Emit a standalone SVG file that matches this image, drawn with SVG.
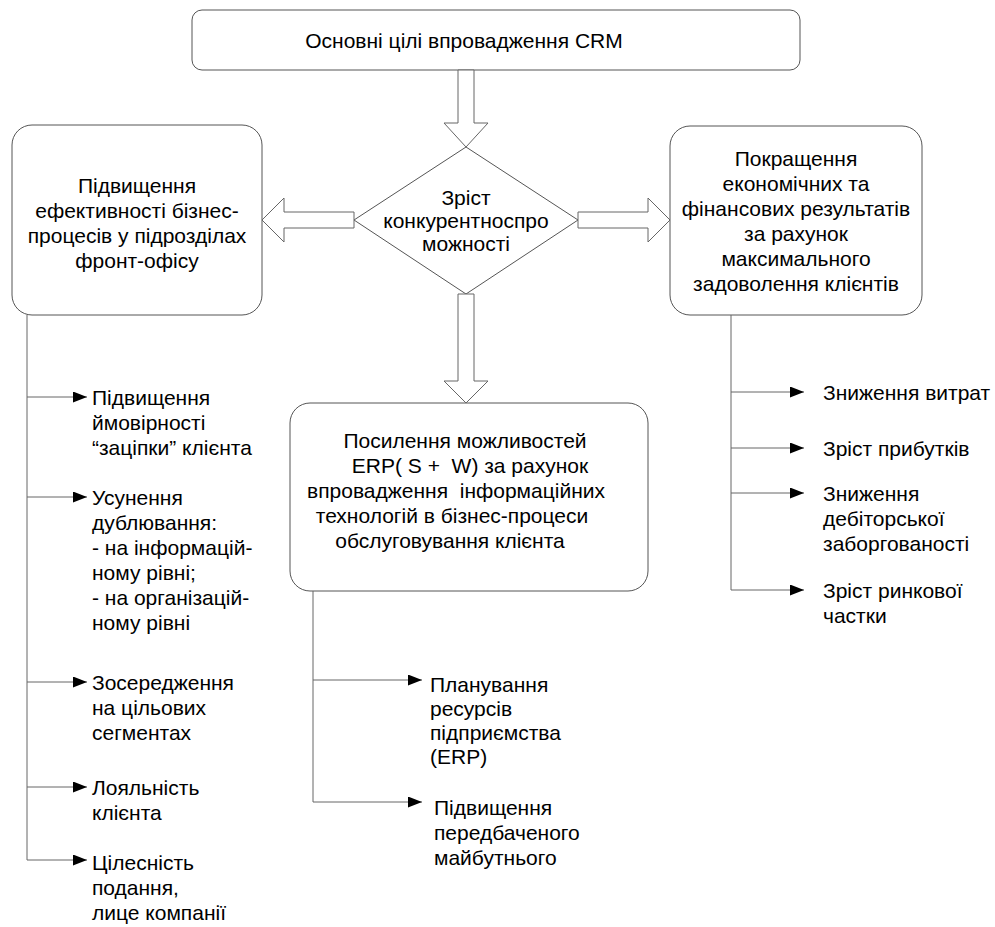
<svg xmlns="http://www.w3.org/2000/svg" width="995" height="927" viewBox="0 0 995 927">
  <defs>
    <marker id="tri" markerWidth="14" markerHeight="11" refX="14" refY="5.5" orient="auto" markerUnits="userSpaceOnUse">
      <path d="M0,0 L14,5.5 L0,11 Z" fill="#000"/>
    </marker>
    <style>
      .box { fill: #fff; stroke: #555; stroke-width: 1; }
      .blk { fill: #fff; stroke: #666; stroke-width: 1; }
      .ln { fill: none; stroke: #666; stroke-width: 1; }
      .br { fill: none; stroke: #666; stroke-width: 1; marker-end: url(#tri); }
      text { font-family: "Liberation Sans", Arial, sans-serif; font-size: 21px; fill: #000; }
      .c { text-anchor: middle; }
      .pre { white-space: pre; }
    </style>
  </defs>
  <rect width="995" height="927" fill="#fff"/>

  <!-- main goal -->
  <g id="goal">
    <rect class="box" x="192" y="10" width="608" height="60" rx="10"/>
    <text class="c" x="464" y="47.5">Основні цілі впровадження CRM</text>
  </g>

  <!-- competitiveness decision -->
  <g id="competitiveness">
    <polygon class="box" points="466,147 578,220 466,294 354,220"/>
    <text class="c" x="466" y="204.5">Зріст</text>
    <text class="c" x="466" y="227.5">конкурентноспро</text>
    <text class="c" x="466" y="250.5">можності</text>
  </g>

  <!-- front-office efficiency -->
  <g id="efficiency">
    <rect class="box" x="12" y="125" width="250" height="190" rx="20"/>
    <text class="c" x="137" y="192.5">Підвищення</text>
    <text class="c" x="137" y="217.5">ефективності бізнес-</text>
    <text class="c" x="137" y="242.5">процесів у підрозділах</text>
    <text class="c" x="137" y="267.5">фронт-офісу</text>
  </g>

  <!-- economic results -->
  <g id="results">
    <rect class="box" x="670" y="126" width="252" height="189" rx="20"/>
    <text class="c" x="796" y="165.5">Покращення</text>
    <text class="c" x="796" y="190.5">економічних та</text>
    <text class="c" x="796" y="215.5">фінансових результатів</text>
    <text class="c" x="796" y="240.5">за рахунок</text>
    <text class="c" x="796" y="265.5">максимального</text>
    <text class="c" x="796" y="290.5">задоволення клієнтів</text>
  </g>

  <!-- ERP capabilities -->
  <g id="erp">
    <rect class="box" x="290" y="403" width="358" height="188" rx="20"/>
    <text class="c pre" x="465" y="447.5" xml:space="preserve">Посилення можливостей</text>
    <text class="c pre" x="470" y="472.5" xml:space="preserve">ERP( S +  W) за рахунок</text>
    <text class="c pre" x="456" y="497.5" xml:space="preserve">впровадження  інформаційних</text>
    <text class="c pre" x="452" y="522.5" xml:space="preserve">технологій в бізнес-процеси</text>
    <text class="c pre" x="450" y="547.5" xml:space="preserve">обслуговування клієнта</text>
  </g>

  <!-- left list items -->
  <g id="item-hook">
    <text x="92" y="405">Підвищення</text>
    <text x="92" y="430">ймовірності</text>
    <text x="92" y="455">“заціпки” клієнта</text>
  </g>
  <g id="item-duplication">
    <text x="92" y="505">Усунення</text>
    <text x="92" y="530">дублювання:</text>
    <text x="92" y="555">- на інформацій-</text>
    <text x="92" y="580">ному рівні;</text>
    <text x="92" y="605">- на організацій-</text>
    <text x="92" y="630">ному рівні</text>
  </g>
  <g id="item-focus">
    <text x="92" y="690">Зосередження</text>
    <text x="92" y="715">на цільових</text>
    <text x="92" y="740">сегментах</text>
  </g>
  <g id="item-loyalty">
    <text x="92" y="795">Лояльність</text>
    <text x="92" y="820">клієнта</text>
  </g>
  <g id="item-image">
    <text x="92" y="870">Цілесність</text>
    <text x="92" y="895">подання,</text>
    <text x="92" y="920">лице компанії</text>
  </g>

  <!-- ERP list items -->
  <g id="item-planning">
    <text x="430" y="692">Планування</text>
    <text x="430" y="716">ресурсів</text>
    <text x="430" y="740">підприємства</text>
    <text x="430" y="764">(ERP)</text>
  </g>
  <g id="item-foresight">
    <text x="434" y="815">Підвищення</text>
    <text x="434" y="840">передбаченого</text>
    <text x="434" y="865">майбутнього</text>
  </g>

  <!-- right list items -->
  <g id="item-costs">
    <text x="823" y="400">Зниження витрат</text>
  </g>
  <g id="item-profit">
    <text x="823" y="456">Зріст прибутків</text>
  </g>
  <g id="item-receivables">
    <text x="823" y="501">Зниження</text>
    <text x="823" y="526">дебіторської</text>
    <text x="823" y="551">заборгованості</text>
  </g>
  <g id="item-share">
    <text x="823" y="598">Зріст ринкової</text>
    <text x="823" y="623">частки</text>
  </g>

  <!-- connectors -->
  <g id="connectors">
    <!-- hollow block arrows -->
    <polygon class="blk" points="458,70 474,70 474,123 488,123 466,147 444,123 458,123"/>
    <polygon class="blk" points="354,212 354,228 284,228 284,242 262,220 284,198 284,212"/>
    <polygon class="blk" points="578,212 648,212 648,198 670,220 648,242 648,228 578,228"/>
    <polygon class="blk" points="458,294 474,294 474,381 488,381 466,403 444,381 458,381"/>

    <!-- left branch -->
    <path class="ln" d="M27,315 V860"/>
    <path class="br" d="M27,397 H87"/>
    <path class="br" d="M27,497 H87"/>
    <path class="br" d="M27,682 H87"/>
    <path class="br" d="M27,787 H87"/>
    <path class="br" d="M27,860 H87"/>

    <!-- ERP branch -->
    <path class="ln" d="M313,591 V802"/>
    <path class="br" d="M313,680 H422"/>
    <path class="br" d="M313,802 H422"/>

    <!-- right branch -->
    <path class="ln" d="M731,315 V590"/>
    <path class="br" d="M731,392 H804"/>
    <path class="br" d="M731,448 H804"/>
    <path class="br" d="M731,493 H804"/>
    <path class="br" d="M731,590 H804"/>
  </g>
</svg>
